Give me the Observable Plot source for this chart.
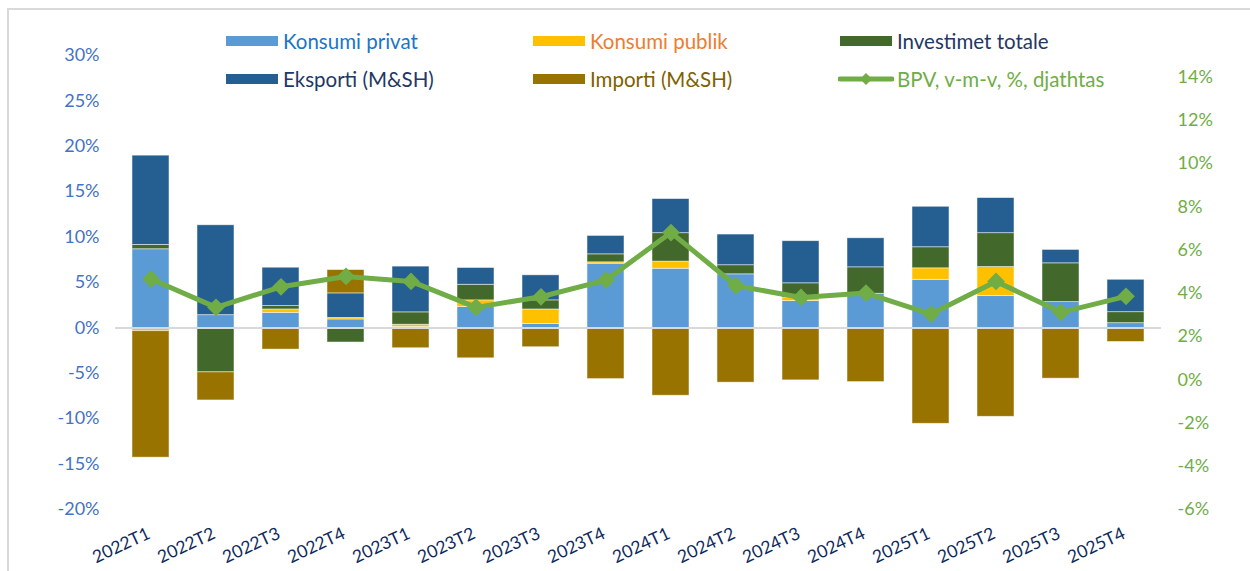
<!DOCTYPE html>
<html><head><meta charset="utf-8">
<script src="https://cdn.jsdelivr.net/npm/d3@7"></script>
<script src="https://cdn.jsdelivr.net/npm/@observablehq/plot@0.6"></script>
<style>
body{margin:0;background:#fff;font-family:Lato, sans-serif;}
#wrap{position:relative;width:1250px;height:571px;overflow:hidden;background:#fff;}
#frame{position:absolute;left:7px;top:8px;width:1300px;height:600px;border:2px solid #d9d9d9;box-sizing:border-box;}
#chart{position:absolute;left:0;top:0;}
.leg{position:absolute;display:flex;align-items:center;font-size:20.5px;line-height:24px;height:24px;white-space:nowrap;}
.sw{width:52px;height:10px;margin-right:5px;flex:none;}
</style></head>
<body><div id="wrap"><div id="frame"></div><div id="chart"></div><div id="legend"></div></div>
<script>
const categories = ["2022T1","2022T2","2022T3","2022T4","2023T1","2023T2","2023T3","2023T4","2024T1","2024T2","2024T3","2024T4","2025T1","2025T2","2025T3","2025T4"];
const seriesNames = ["Konsumi privat","Konsumi publik","Investimet totale","Eksporti (M&SH)","Importi (M&SH)"];
const seriesColors = ["#5B9BD5","#FFC000","#43682B","#255E91","#997300"];
const legendTextColors = ["#1B75C5","#ED7D31","#1F3864","#1F3864","#7F6000"];
const lineName = "BPV, v-m-v, %, djathtas";
const lineColor = "#70AD47";

const konsumiPrivat   = [8.66, 1.40, 1.66, 0.93, 0.10, 2.29, 0.44, 7.07, 6.52, 5.90, 2.95, 3.76, 5.30, 3.50, 2.84, 0.52];
const konsumiPublik   = [-0.36, 0.00, 0.37, 0.17, 0.25, 0.74, 1.59, 0.15, 0.78, 0.00, 0.36, -0.10, 1.26, 3.20, -0.10, 0.00];
const investimet      = [0.48, -4.90, 0.37, -1.61, 1.36, 1.72, 1.00, 0.88, 3.13, 1.00, 1.60, 2.91, 2.32, 3.73, 4.27, 1.21];
const eksporti        = [9.83, 9.90, 4.23, 2.70, 5.04, 1.85, 2.76, 2.03, 3.76, 3.38, 4.64, 3.20, 4.46, 3.87, 1.48, 3.57];
const importi         = [-13.93, -3.09, -2.39, 2.57, -2.24, -3.35, -2.13, -5.64, -7.47, -6.03, -5.78, -5.87, -10.56, -9.79, -5.49, -1.55];
const bpv             = [4.66, 3.35, 4.30, 4.78, 4.55, 3.35, 3.84, 4.61, 6.81, 4.35, 3.81, 4.01, 3.04, 4.55, 3.12, 3.86];

const leftTicks = [-20,-15,-10,-5,0,5,10,15,20,25,30];
const rightTicks = [-6,-4,-2,0,2,4,6,8,10,12,14];
const rightDomain = [-6, 15];

const seriesValues = [konsumiPrivat, konsumiPublik, investimet, eksporti, importi];
const rows = [];
seriesValues.forEach((vals, i) => vals.forEach((v, j) => rows.push({cat: categories[j], series: seriesNames[i], value: v})));
const lineRows = categories.map((c, j) => ({cat: c, v: bpv[j]}));

const toL = r => -20 + (r - rightDomain[0]) * 50 / (rightDomain[1] - rightDomain[0]);
const toR = l => Math.round((l + 20) * (rightDomain[1] - rightDomain[0]) / 50 + rightDomain[0]);

const chart = Plot.plot({
  width: 1250, height: 571,
  marginTop: 55, marginBottom: 62, marginLeft: 115, marginRight: 89,
  x: {domain: categories, paddingInner: 0.43, paddingOuter: 0.215, label: null},
  y: {domain: [-20, 30], label: null},
  color: {domain: seriesNames, range: seriesColors},
  style: {fontFamily: "Lato, sans-serif", background: "transparent", overflow: "visible"},
  marks: [
    Plot.barY(rows, Plot.stackY({x: "cat", y: "value", fill: "series", z: "series", stroke: "#ffffff", strokeWidth: 0.8, strokeOpacity: 0.6})),
    Plot.ruleY([0], {stroke: "#d9d9d9", strokeWidth: 2}),
    Plot.line(lineRows, {x: "cat", y: d => toL(d.v), stroke: lineColor, strokeWidth: 5}),
    Plot.dot(lineRows, {x: "cat", y: d => toL(d.v), symbol: "diamond2", r: 8, fill: lineColor, stroke: "none"}),
    Plot.axisY(leftTicks, {anchor: "left", tickSize: 0, tickPadding: 16, tickFormat: d => d + "%", fill: "#4472C4", fontSize: 18}),
    Plot.axisY(rightTicks.map(toL), {anchor: "right", tickSize: 0, tickPadding: 16, tickFormat: d => toR(d) + "%", fill: lineColor, fontSize: 18}),
    Plot.axisX({anchor: "bottom", tickSize: 0, tickPadding: 6, dy: 17, dx: -2, tickRotate: -25, fill: "#0E2A5C", fontSize: 17.5})
  ]
});
document.getElementById("chart").appendChild(chart);

// legend
const legend = document.getElementById("legend");
const legPos = [[226, 41], [533, 41], [840, 41], [226, 79], [533, 79]];
seriesNames.forEach((name, i) => {
  const d = document.createElement("div");
  d.className = "leg";
  d.style.left = legPos[i][0] + "px";
  d.style.top = (legPos[i][1] - 12) + "px";
  d.innerHTML = `<div class="sw" style="background:${seriesColors[i]}"></div><span style="color:${legendTextColors[i]}"></span>`;
  d.querySelector("span").textContent = name;
  legend.appendChild(d);
});
const dl = document.createElement("div");
dl.className = "leg";
dl.style.left = "838px";
dl.style.top = (79 - 12) + "px";
dl.innerHTML = `<svg width="56" height="14" style="margin-right:3px"><line x1="2" y1="7" x2="54" y2="7" stroke="${lineColor}" stroke-width="5" stroke-linecap="round"/><path d="M28 1 L34 7 L28 13 L22 7 Z" fill="${lineColor}"/></svg><span style="color:${lineColor}"></span>`;
dl.querySelector("span").textContent = lineName;
legend.appendChild(dl);
</script>
</body></html>
